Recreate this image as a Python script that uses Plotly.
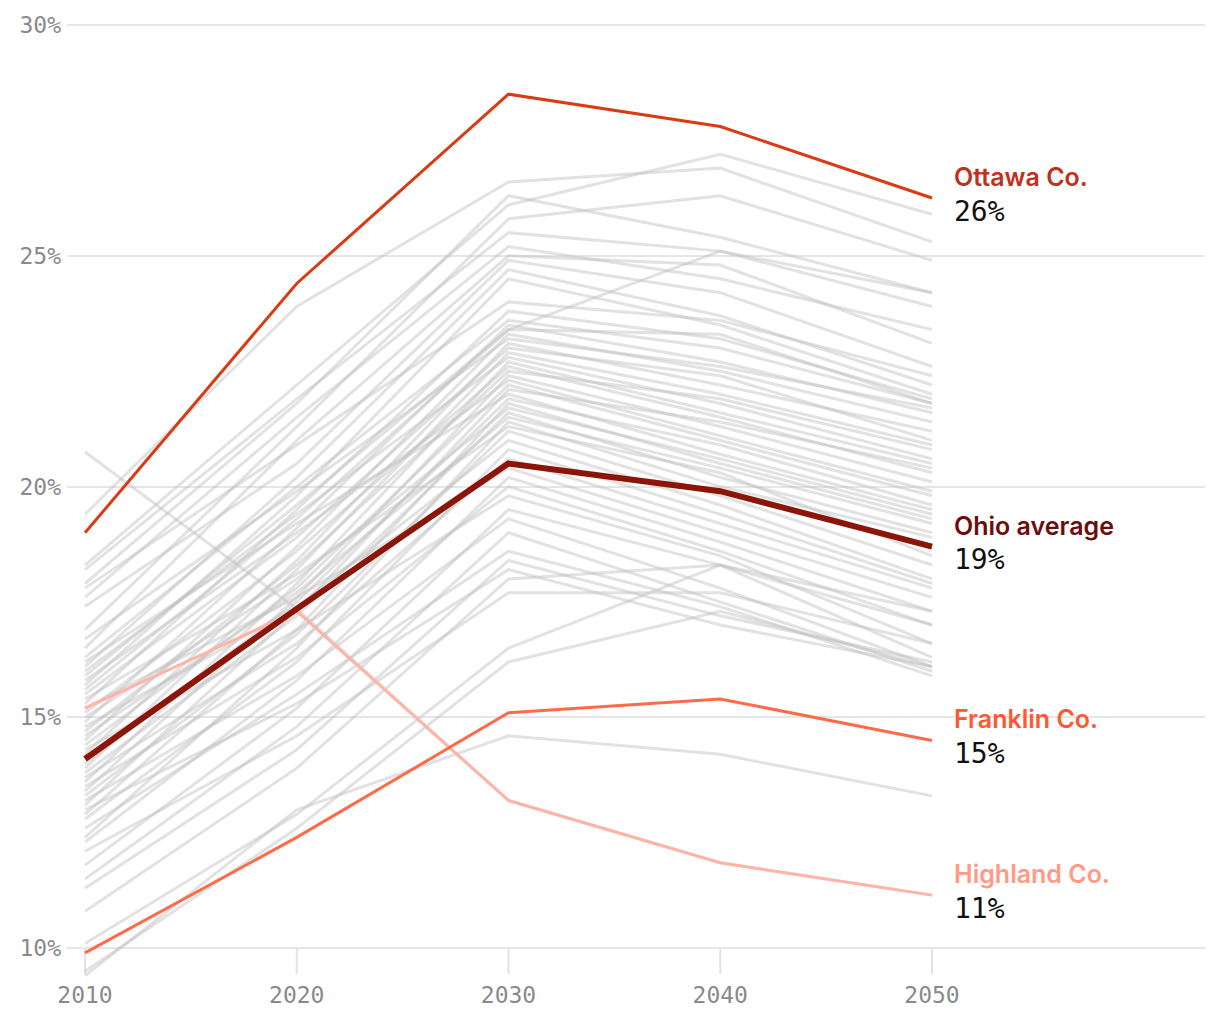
import plotly.graph_objects as go

years = [2010, 2020, 2030, 2040, 2050]

# Grey county lines (share of population 65+, %)
grey_lines = [
    [19.4, 23.9, 26.6, 26.9, 25.3],
    [18.3, 22.2, 26.1, 27.2, 25.9],
    [17.9, 21.8, 26.3, 25.4, 24.2],
    [16.9, 21.3, 25.8, 26.3, 24.9],
    [18.2, 21.9, 25.5, 25.1, 23.9],
    [17.6, 21.5, 25.2, 24.5, 23.4],
    [16.5, 21.0, 25.0, 24.8, 23.1],
    [17.4, 20.5, 24.9, 24.2, 22.6],
    [16.1, 20.2, 24.7, 23.7, 22.2],
    [15.7, 19.8, 24.5, 23.5, 22.0],
    [17.8, 20.9, 24.0, 23.6, 22.4],
    [15.3, 19.5, 23.8, 23.2, 21.9],
    [16.3, 20.0, 23.6, 23.0, 21.8],
    [14.9, 19.1, 23.5, 22.7, 21.6],
    [15.9, 19.6, 23.4, 23.3, 21.8],
    [14.5, 18.7, 23.3, 22.5, 21.4],
    [16.7, 19.9, 23.2, 22.6, 21.7],
    [14.2, 18.4, 23.1, 22.2, 21.2],
    [15.5, 18.9, 23.0, 22.4, 21.0],
    [13.9, 18.2, 22.9, 22.0, 20.9],
    [16.0, 19.4, 22.8, 21.8, 20.6],
    [13.6, 17.9, 22.7, 21.6, 20.5],
    [15.1, 18.6, 22.6, 21.5, 20.3],
    [14.7, 18.3, 22.5, 21.9, 20.8],
    [13.4, 17.6, 22.4, 21.3, 20.1],
    [15.8, 19.0, 22.3, 21.1, 19.9],
    [14.4, 17.8, 22.2, 21.0, 19.8],
    [13.1, 17.3, 22.1, 21.4, 20.4],
    [16.2, 19.2, 22.0, 20.7, 19.5],
    [14.0, 17.5, 21.9, 20.9, 19.6],
    [12.9, 16.9, 21.8, 20.5, 19.3],
    [15.0, 18.0, 21.7, 20.6, 19.4],
    [13.8, 17.2, 21.6, 20.2, 19.0],
    [14.6, 17.7, 21.5, 20.4, 19.2],
    [12.4, 16.5, 21.4, 20.0, 18.9],
    [15.4, 18.1, 21.3, 20.3, 18.5],
    [13.3, 16.8, 21.2, 19.8, 18.3],
    [14.8, 17.4, 21.0, 19.6, 18.0],
    [12.8, 16.2, 20.8, 19.4, 17.9],
    [13.7, 16.6, 20.6, 19.2, 17.8],
    [15.2, 17.6, 20.4, 19.0, 17.6],
    [12.3, 15.8, 20.2, 18.8, 17.3],
    [13.5, 16.3, 20.0, 18.6, 17.0],
    [14.3, 16.9, 19.8, 18.5, 16.6],
    [11.8, 15.2, 19.5, 18.3, 16.3],
    [13.2, 15.9, 19.3, 17.8, 16.1],
    [11.5, 14.8, 19.0, 17.5, 16.0],
    [12.6, 15.5, 18.6, 17.4, 15.9],
    [11.3, 14.3, 18.4, 17.2, 16.2],
    [13.0, 15.3, 18.2, 17.0, 16.1],
    [10.8, 13.9, 18.0, 18.3, 17.3],
    [12.1, 14.6, 17.7, 17.7, 16.6],
    [10.1, 12.9, 16.5, 18.3, 17.0],
    [9.5, 12.6, 16.2, 17.3, 16.1],
    [9.4, 13.0, 14.6, 14.2, 13.3],
    [15.6, 19.3, 23.4, 25.1, 24.2],
    [20.75, 17.35, 13.2, 11.85, 11.15],
]

# Highlighted series
highlight_names = ["Highland Co.", "Franklin Co.", "Ottawa Co.", "Ohio average"]
highlight_values = [
    [15.2, 17.3, 13.2, 11.85, 11.15],
    [9.9, 12.4, 15.1, 15.4, 14.5],
    [19.0, 24.4, 28.5, 27.8, 26.25],
    [14.1, 17.35, 20.5, 19.9, 18.7],
]
highlight_labels = ["11%", "15%", "26%", "19%"]
line_colors = ["#ffb4a6", "#ff6b4a", "#d93b14", "#8c150a"]
label_colors = ["#ff9a85", "#ff5833", "#c0301a", "#6e0b0b"]
line_widths = [3, 3, 3, 6]

y_ticks = [10, 15, 20, 25, 30]
y_tick_text = ["10%", "15%", "20%", "25%", "30%"]

fig = go.Figure()

for vals in grey_lines:
    fig.add_trace(go.Scatter(
        x=years, y=vals, mode="lines",
        line=dict(color="rgba(190,190,190,0.45)", width=3),
        hoverinfo="skip", showlegend=False,
    ))

for name, vals, col, w in zip(highlight_names, highlight_values, line_colors, line_widths):
    fig.add_trace(go.Scatter(
        x=years, y=vals, mode="lines", name=name,
        line=dict(color=col, width=w),
        hoverinfo="skip", showlegend=False,
    ))

annotations = []
for name, vals, lab, lc in zip(highlight_names, highlight_values, highlight_labels, label_colors):
    annotations.append(dict(
        x=years[-1], y=vals[-1], xref="x", yref="y", text=name,
        showarrow=False, xanchor="left", yanchor="middle", xshift=20, yshift=21,
        font=dict(family="Inter", size=25, color=lc, weight=600),
    ))
    annotations.append(dict(
        x=years[-1], y=vals[-1], xref="x", yref="y", text=lab,
        showarrow=False, xanchor="left", yanchor="middle", xshift=20, yshift=-13,
        font=dict(family="DejaVu Sans Mono", size=28, color="#111111"),
    ))

shapes = []
for yr in years:
    shapes.append(dict(
        type="line", xref="x", yref="y", x0=yr, x1=yr, y0=10, y1=9.44,
        line=dict(color="#e3e3e3", width=2), layer="below",
    ))

fig.update_layout(
    width=1220, height=1020,
    margin=dict(l=67, r=15, t=15, b=38),
    paper_bgcolor="white", plot_bgcolor="white",
    hovermode=False,
    annotations=annotations,
    shapes=shapes,
    xaxis=dict(
        range=[2009.15, 2062.893],
        tickvals=years, ticktext=[str(y) for y in years],
        showgrid=False, zeroline=False, showline=False, ticks="",
        tickfont=dict(family="DejaVu Sans Mono", size=23, color="#8a8a8a"),
        fixedrange=True,
    ),
    yaxis=dict(
        range=[9.333, 30.15],
        tickvals=y_ticks, ticktext=y_tick_text,
        showgrid=True, gridcolor="#e6e6e6", gridwidth=2,
        zeroline=False, showline=False, ticks="",
        ticklabelstandoff=5,
        tickfont=dict(family="DejaVu Sans Mono", size=23, color="#8a8a8a"),
        fixedrange=True,
    ),
)

fig.write_html("out.html", config={"displayModeBar": False},
               post_script="document.body.style.margin='0';")
